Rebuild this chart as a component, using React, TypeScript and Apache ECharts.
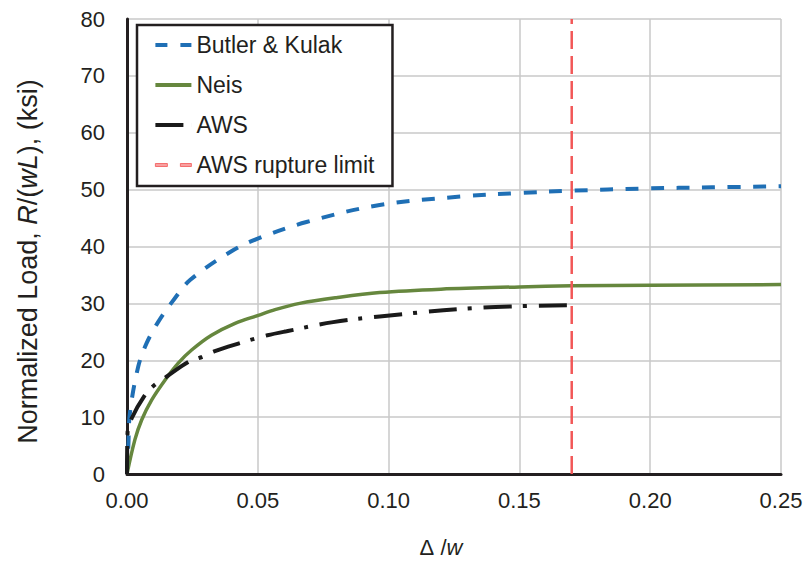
import React, { useEffect, useRef } from "react";
import * as echarts from "echarts";

// Δ/w values and normalized loads R/(wL) (ksi)
const butlerX = [0, 0.0001, 0.0005, 0.0011, 0.0043, 0.0075, 0.012, 0.0183, 0.0241, 0.0393, 0.0495, 0.0686, 0.0966, 0.128, 0.15, 0.1696, 0.198, 0.2237, 0.25];
const butlerY = [0, 2.5, 4.8, 10.7, 18.9, 23.0, 26.8, 30.9, 34.1, 39.0, 41.3, 44.3, 47.3, 48.8, 49.4, 49.8, 50.2, 50.4, 50.6];

const neisX = [0, 0.003, 0.0056, 0.0094, 0.0145, 0.0196, 0.0247, 0.0323, 0.0413, 0.0502, 0.0566, 0.066, 0.08, 0.0966, 0.12, 0.15, 0.17, 0.2, 0.25];
const neisY = [0, 6.0, 9.5, 13.0, 16.5, 19.5, 21.8, 24.4, 26.5, 27.9, 28.9, 30.0, 31.0, 31.9, 32.5, 32.9, 33.1, 33.2, 33.3];

const awsX = [0, 0.0002, 0.0018, 0.0069, 0.0104, 0.0151, 0.0234, 0.0288, 0.0336, 0.0438, 0.0489, 0.0537, 0.061, 0.0788, 0.0966, 0.1335, 0.17];
const awsY = [0, 7.2, 9.8, 13.9, 15.6, 17.1, 19.7, 20.6, 21.6, 23.1, 23.8, 24.4, 25.1, 26.7, 27.7, 29.2, 29.7];

const ruptureX = [0.17, 0.17];
const ruptureY = [0, 80];

const seriesNames = ["Butler & Kulak", "Neis", "AWS", "AWS rupture limit"];

const FONT = "'Liberation Sans', Arial, Helvetica, sans-serif";
const TEXT = "#231f20";
const BLUE = "#1f6fb5";
const GREEN = "#66873e";
const BLACK = "#1a1a1a";
const RED = "#f25757";

const zip = (xs: number[], ys: number[]) => xs.map((x, i) => [x, ys[i]]);

export default function App() {
  const ref = useRef<HTMLDivElement>(null);
  useEffect(() => {
    if (!ref.current) return;
    const chart = echarts.init(ref.current, undefined, { renderer: "svg" });
    chart.setOption({
      animation: false,
      backgroundColor: "#ffffff",
      textStyle: { fontFamily: FONT },
      grid: { left: 127, right: 25, top: 19, bottom: 93, containLabel: false },
      legend: {
        orient: "vertical",
        left: 137,
        top: 25,
        padding: [7, 18, 8, 18],
        borderColor: "#231f20",
        borderWidth: 2.5,
        backgroundColor: "#ffffff",
        itemWidth: 36,
        itemHeight: 4,
        itemGap: 14,
        textStyle: { fontSize: 23, color: TEXT, fontFamily: FONT, lineHeight: 26 },
        data: [
          {
            name: seriesNames[0],
            icon: "path://M0,0h12v4h-12z M25,0h11v4h-11z",
            itemStyle: { color: BLUE, borderWidth: 0 },
          },
          {
            name: seriesNames[1],
            icon: "path://M0,0h36v4h-36z",
            itemStyle: { color: GREEN, borderWidth: 0 },
          },
          {
            name: seriesNames[2],
            icon: "path://M0,0h28v4h-28z M35.98,0h0.02v4h-0.02z",
            itemStyle: { color: BLACK, borderWidth: 0 },
          },
          {
            name: seriesNames[3],
            icon: "path://M0,0h12v3h-12z M25,0h11v3h-11z",
            itemStyle: { color: "#f8a0a0", borderColor: RED, borderWidth: 0.8 },
          },
        ],
      },
      xAxis: {
        type: "value",
        min: 0,
        max: 0.25,
        interval: 0.05,
        name: "{d|Δ} /{i|w}",
        nameLocation: "middle",
        nameGap: 62,
        nameTextStyle: {
          fontSize: 22,
          color: TEXT,
          fontFamily: FONT,
          padding: [0, 26, 0, 0],
          rich: {
            d: { fontSize: 22, color: TEXT, fontFamily: FONT },
            i: { fontSize: 22, color: TEXT, fontFamily: FONT, fontStyle: "italic" },
          },
        },
        axisLine: { show: true, onZero: false, lineStyle: { color: TEXT, width: 3 } },
        axisTick: { show: false },
        axisLabel: {
          fontSize: 22,
          color: TEXT,
          fontFamily: FONT,
          margin: 15,
          formatter: (v: number) => v.toFixed(2),
        },
        splitLine: { show: true, lineStyle: { color: "#c8c8c8", width: 1.5 } },
      },
      yAxis: {
        type: "value",
        min: 0,
        max: 80,
        interval: 10,
        name: "Normalized Load, {i|R}/({i|wL}), (ksi)",
        nameLocation: "middle",
        nameGap: 86,
        nameTextStyle: {
          fontSize: 27,
          color: TEXT,
          fontFamily: FONT,
          padding: [0, 30, 0, 0],
          rich: {
            i: { fontSize: 27, color: TEXT, fontFamily: FONT, fontStyle: "italic" },
          },
        },
        axisLine: { show: true, lineStyle: { color: TEXT, width: 3 } },
        axisTick: { show: false },
        axisLabel: { fontSize: 22, color: TEXT, fontFamily: FONT, margin: 22 },
        splitLine: { show: true, lineStyle: { color: "#c8c8c8", width: 1.5 } },
      },
      series: [
        {
          name: seriesNames[0],
          type: "line",
          data: zip(butlerX, butlerY),
          symbol: "none",
          smooth: 0.35,
          color: BLUE,
          lineStyle: { color: BLUE, width: 4, type: [13, 12.5] },
          z: 3,
        },
        {
          name: seriesNames[1],
          type: "line",
          data: zip(neisX, neisY),
          symbol: "none",
          smooth: 0.35,
          color: GREEN,
          lineStyle: { color: GREEN, width: 3.5, type: "solid" },
          z: 2,
        },
        {
          name: seriesNames[2],
          type: "line",
          data: zip(awsX, awsY),
          symbol: "none",
          smooth: 0.35,
          color: BLACK,
          lineStyle: { color: BLACK, width: 4, type: [28, 11, 4, 12] },
          z: 4,
        },
        {
          name: seriesNames[3],
          type: "line",
          data: zip(ruptureX, ruptureY),
          symbol: "none",
          color: RED,
          lineStyle: { color: RED, width: 2.5, type: [18, 7] },
          z: 5,
        },
      ],
    });
    return () => chart.dispose();
  }, []);
  return (
    <div
      ref={ref}
      style={{ position: "fixed", left: 0, top: 0, width: 806, height: 567, background: "#fff" }}
    />
  );
}
